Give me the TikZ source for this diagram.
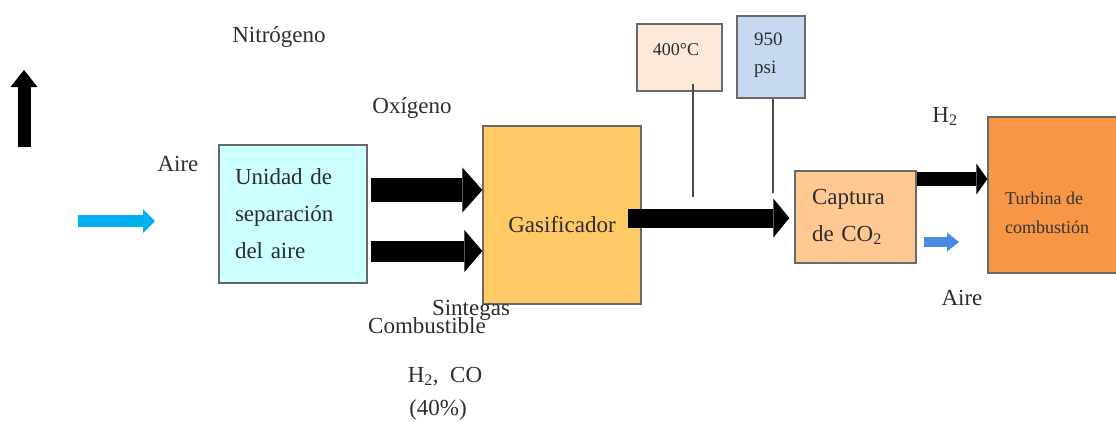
\documentclass[tikz,border=0pt]{standalone}
\usepackage{fontspec}
\setmainfont{Liberation Serif}
\usetikzlibrary{positioning,arrows.meta,calc}
\definecolor{SepCyan}{RGB}{204,255,255}
\definecolor{GasYellow}{RGB}{255,201,102}
\definecolor{CapPeach}{RGB}{255,200,146}
\definecolor{TurbOrange}{RGB}{247,150,70}
\definecolor{TempPeach}{RGB}{253,233,217}
\definecolor{PresBlue}{RGB}{198,217,241}
\definecolor{AirBlue}{RGB}{0,176,240}
\definecolor{AirBlueDark}{RGB}{74,138,226}
\definecolor{EdgeGray}{RGB}{105,105,105}
\definecolor{TextGray}{RGB}{45,45,45}

\begin{document}
\begin{tikzpicture}[x=1pt, y=-1pt,
      every node/.style={font=\fontsize{23}{37}\selectfont, text=TextGray, inner sep=0pt},
      unit/.style={draw=EdgeGray, line width=1.3pt, align=left},
      tag/.style={anchor=base},
      flow/.style n args={3}{line width=#1, -{Triangle[width=#2, length=#3, line width=0pt]}},
      probe/.style={draw=black!70, line width=2pt}
  ]
    \useasboundingbox (0,0) rectangle (1116,421);
    % process units
    \node[unit, fill=SepCyan, minimum width=148pt, minimum height=138pt, text width=116pt] (sep) at (293,214) {Unidad de\\separación\\del aire};
    \node[unit, fill=GasYellow, minimum width=158pt, minimum height=178pt, text height=34pt, text depth=0pt] (gas) at (562,215) {Gasificador};
    \node[unit, fill=CapPeach, minimum width=121pt, minimum height=92pt, text width=87pt] (cap) at (855.5,217) {Captura\\de CO\textsubscript{2}};
    \node[unit, fill=TurbOrange, minimum width=129pt, minimum height=156pt] (turb) at (1052.5,195) {};
    \node[anchor=west, align=left, font=\fontsize{18}{29}\selectfont, text=black!80] (turbtxt) at (1005,213) {Turbina de\\combustión};
    % conditions
    \node[unit, fill=TempPeach, minimum width=85pt, minimum height=67pt] (tbox) at (679.5,57.5) {};
    \node[tag, font=\fontsize{18}{22}\selectfont] (temp) at (676,55) {400°C};
    \node[unit, fill=PresBlue, minimum width=68pt, minimum height=82pt] (pbox) at (771,57) {};
    \node[anchor=north west, align=left, font=\fontsize{19}{28}\selectfont] (pres) at (754,33) {950\\psi};
    % stream labels
    \node[tag] (nitro) at (279,42) {Nitrógeno};
    \node[tag] (oxi) at (412,113) {Oxígeno};
    \node[tag] (aireL) at (178,171) {Aire};
    \node[tag] (comb) at (427,333) {Combustible};
    \node[tag] (sint) at (471,315) {Sintegas};
    \node[tag] (hco) at (445,382) {H\textsubscript{2},~ CO};
    \node[tag] (pct) at (438,415) {(40\%)};
    \node[tag] (htwo) at (945,122) {H\textsubscript{2}};
    \node[tag] (aireR) at (962,305) {Aire};
    % free ends
    \coordinate (nup0) at (24,147);
    \coordinate (nup1) at (24,70);
    \coordinate (air0) at (78,221);
    \coordinate (air1) at (155,221);
    \coordinate (air2) at (924,242);
    \coordinate (air3) at (959,242);
    \coordinate (tend) at (693,197);
    \coordinate (pend) at (773,193);
    % probes
    \draw[probe] ($(tbox.south -| tend)+(0,-8)$) -- (tend);
    \draw[probe] (pbox.south -| pend) -- (pend);
    % streams
    \draw[flow={13pt}{27pt}{17pt}] (nup0) -- (nup1);
    \draw[flow={12pt}{24pt}{12pt}, draw=AirBlue] (air0) -- (air1);
    \draw[flow={24pt}{45pt}{20pt}] ($(sep.east)+(3,-24)$) -- ($(gas.west)+(0,-25)$);
    \draw[flow={21pt}{42pt}{18pt}] ($(sep.east)+(3,37)$) -- ($(gas.west)+(0,36)$);
    \draw[flow={19pt}{39pt}{16pt}] ($(gas.east)+(-14,3)$) -- ($(cap.west)+(-5,1)$);
    \draw[flow={14pt}{31pt}{11pt}] ($(cap.east)+(0,-38)$) -- ($(turb.west)+(0,-16)$);
    \draw[flow={10pt}{19pt}{12pt}, draw=AirBlueDark] (air2) -- (air3);
\end{tikzpicture}
\end{document}
